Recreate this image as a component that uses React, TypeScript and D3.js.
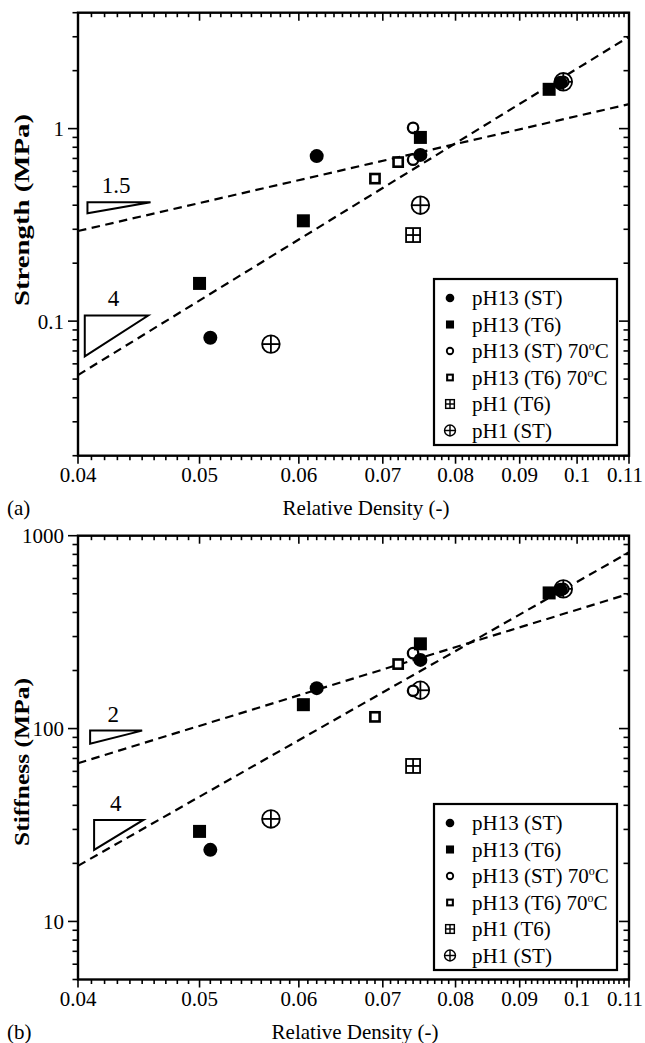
import React from 'react';
import * as d3 from 'd3';

// ---------- data ----------
const xTickValues = [0.04, 0.05, 0.06, 0.07, 0.08, 0.09, 0.1, 0.11];
const xTickLabels = ['0.04', '0.05', '0.06', '0.07', '0.08', '0.09', '0.1', '0.11'];

const seriesKinds = ['fcircle', 'fsquare', 'ocircle', 'osquare', 'sqplus', 'circplus'];
const seriesBase = ['pH13 (ST)', 'pH13 (T6)', 'pH13 (ST) 70', 'pH13 (T6) 70', 'pH1 (T6)', 'pH1 (ST)'];
const seriesSup = ['', '', 'o', 'o', '', ''];
const seriesTail = ['', '', 'C', 'C', '', ''];

// Strength (MPa) vs relative density
const strengthST = [[0.051, 0.082], [0.062, 0.72], [0.075, 0.73], [0.097, 1.73]];
const strengthT6 = [[0.05, 0.157], [0.0605, 0.332], [0.075, 0.9], [0.095, 1.6]];
const strengthST70 = [[0.074, 1.01], [0.074, 0.69], [0.0975, 1.75]];
const strengthT670 = [[0.069, 0.55], [0.072, 0.67]];
const strengthPH1T6 = [[0.074, 0.28]];
const strengthPH1ST = [[0.057, 0.076], [0.075, 0.40], [0.0975, 1.75]];
const strengthFitExp = [1.5, 4];
const strengthFitAt011 = [1.34, 3.0];
const strengthTriangles = [
  { label: '1.5', x0: 0.0407, x1: 0.0457, yTop: 0.414, yBot: 0.363 },
  { label: '4', x0: 0.0405, x1: 0.0455, yTop: 0.107, yBot: 0.0656 },
];

// Stiffness (MPa) vs relative density
const stiffST = [[0.051, 23.5], [0.062, 162], [0.075, 227], [0.097, 525]];
const stiffT6 = [[0.05, 29.3], [0.0605, 133], [0.075, 275], [0.095, 505]];
const stiffST70 = [[0.074, 246], [0.074, 157], [0.0975, 530]];
const stiffT670 = [[0.069, 115], [0.072, 216]];
const stiffPH1T6 = [[0.074, 64]];
const stiffPH1ST = [[0.057, 34], [0.075, 158], [0.0975, 530]];
const stiffFitExp = [2, 3.7];
const stiffFitAt011 = [500, 820];
const stiffTriangles = [
  { label: '2', x0: 0.0409, x1: 0.045, yTop: 97.6, yBot: 83.4 },
  { label: '4', x0: 0.0412, x1: 0.0451, yTop: 33.6, yBot: 23.5 },
];

const strengthYMajor = [0.1, 1];
const strengthYLabels = ['0.1', '1'];
const stiffYMajor = [10, 100, 1000];
const stiffYLabels = ['10', '100', '1000'];

// ---------- layout ----------
const FONT = "'Liberation Serif', 'Times New Roman', serif";
const X_LEFT = 78;
const X_RIGHT = 629;
const PAGE_W = 645;

const xScale = d3.scaleLog().domain([0.04, 0.11]).range([X_LEFT, X_RIGHT]);

function Marker({ kind, x, y, s = 1 }: { kind: string; x: number; y: number; s?: number }) {
  const sw = (w: number) => w * Math.max(s, 0.8);
  if (kind === 'fcircle') return <circle cx={x} cy={y} r={7 * s} fill="#000" />;
  if (kind === 'fsquare') {
    const h = 6.5 * s;
    return <rect x={x - h} y={y - h} width={2 * h} height={2 * h} fill="#000" />;
  }
  if (kind === 'ocircle') return <circle cx={x} cy={y} r={5.2 * s} fill="#fff" stroke="#000" strokeWidth={sw(2.3)} />;
  if (kind === 'osquare') {
    const h = 4.6 * s;
    return <rect x={x - h} y={y - h} width={2 * h} height={2 * h} fill="#fff" stroke="#000" strokeWidth={sw(2.6)} />;
  }
  if (kind === 'sqplus') {
    const h = 7 * s;
    return (
      <g stroke="#000" strokeWidth={sw(1.8)} fill="#fff">
        <rect x={x - h} y={y - h} width={2 * h} height={2 * h} />
        <line x1={x - h} x2={x + h} y1={y} y2={y} />
        <line x1={x} x2={x} y1={y - h} y2={y + h} />
      </g>
    );
  }
  const r = 8.8 * s;
  return (
    <g stroke="#000" strokeWidth={sw(1.8)} fill="#fff">
      <circle cx={x} cy={y} r={r} />
      <line x1={x - r} x2={x + r} y1={y} y2={y} />
      <line x1={x} x2={x} y1={y - r} y2={y + r} />
    </g>
  );
}

type PanelProps = {
  yDomain: [number, number];
  yTop: number;
  yBottom: number;
  yMajor: number[];
  yLabels: string[];
  yTitle: string;
  yTitleCenter: number;
  yTitleLength: number;
  xTitleCenter: number;
  panelLabel: string;
  series: number[][][];
  fitExp: number[];
  fitAt011: number[];
  triangles: { label: string; x0: number; x1: number; yTop: number; yBot: number }[];
  legendTop: number;
};

function Panel(p: PanelProps) {
  const y = d3.scaleLog().domain(p.yDomain).range([p.yBottom, p.yTop]);
  const [d0, d1] = p.yDomain;
  const yMinor: number[] = [];
  for (let e = Math.floor(Math.log10(d0)); e <= Math.ceil(Math.log10(d1)); e++) {
    for (let k = 1; k <= 9; k++) {
      const v = k * Math.pow(10, e);
      if (v >= d0 * 0.999 && v <= d1 * 1.001 && !p.yMajor.some((m) => Math.abs(m - v) / v < 1e-6)) yMinor.push(v);
    }
  }
  const xMinor: number[] = d3.range(41, 110).map((i) => i / 1000).filter((v) => Math.round(v * 1000) % 10 !== 0);

  const fitPaths = p.fitExp.map((ex, i) => {
    const xs = [0.04, 0.11];
    const pts = xs.map((xv) => [xScale(xv), y(p.fitAt011[i] * Math.pow(xv / 0.11, ex))] as [number, number]);
    return d3.line()(pts) as string;
  });

  const legendX = 434;
  const legendW = 183;
  const rowH = 26.5;
  const legendH = 166;
  const drawOrder = [5, 2, 3, 4, 1, 0];

  return (
    <g fontFamily={FONT} fill="#000">
      {fitPaths.map((d, i) => (
        <path key={i} d={d} fill="none" stroke="#000" strokeWidth={2.2} strokeDasharray="8.5,5.5" />
      ))}
      {p.triangles.map((t, i) => {
        const pts = [
          [xScale(t.x0), y(t.yTop)],
          [xScale(t.x1), y(t.yTop)],
          [xScale(t.x0), y(t.yBot)],
        ];
        return (
          <g key={i}>
            <polygon points={pts.map((q) => q.join(',')).join(' ')} fill="none" stroke="#000" strokeWidth={2} />
            <text x={(xScale(t.x0) + xScale(t.x1)) / 2 - 3} y={y(t.yTop) - 9} fontSize={23} textAnchor="middle">
              {t.label}
            </text>
          </g>
        );
      })}
      {drawOrder.map((si) =>
        p.series[si].map((d, j) => <Marker key={si + '-' + j} kind={seriesKinds[si]} x={xScale(d[0])} y={y(d[1])} />)
      )}
      <rect x={X_LEFT} y={p.yTop} width={X_RIGHT - X_LEFT} height={p.yBottom - p.yTop} fill="none" stroke="#000" strokeWidth={2.4} />
      {[p.yBottom, p.yTop].map((base, k) => (
        <g key={k} stroke="#000" strokeWidth={1.6}>
          {xTickValues.map((v) => (
            <line key={v} x1={xScale(v)} x2={xScale(v)} y1={base} y2={base + 8} />
          ))}
          {xMinor.map((v) => (
            <line key={v} x1={xScale(v)} x2={xScale(v)} y1={base} y2={base + 4.5} />
          ))}
        </g>
      ))}
      {[X_LEFT, X_RIGHT].map((base, k) => (
        <g key={k} stroke="#000" strokeWidth={1.6}>
          {p.yMajor.map((v) => (
            <line key={v} x1={base} x2={base - 10} y1={y(v)} y2={y(v)} />
          ))}
          {yMinor.map((v) => (
            <line key={v} x1={base} x2={base - 5.5} y1={y(v)} y2={y(v)} />
          ))}
        </g>
      ))}
      {xTickValues.map((v, i) => {
        const cx = xScale(v);
        const atEdge = cx + 18 > PAGE_W - 1;
        return (
          <text
            key={v}
            x={atEdge ? PAGE_W - 2 : cx}
            y={p.yBottom + 26}
            fontSize={21}
            textAnchor={atEdge ? 'end' : 'middle'}
          >
            {xTickLabels[i]}
          </text>
        );
      })}
      {p.yMajor.map((v, i) => (
        <text key={v} x={64} y={y(v) + 7.5} fontSize={21} textAnchor="end">
          {p.yLabels[i]}
        </text>
      ))}
      <text x={p.xTitleCenter} y={p.yBottom + 59} fontSize={21} textAnchor="middle">
        Relative Density (-)
      </text>
      <text x={7} y={p.yBottom + 59} fontSize={21}>
        {p.panelLabel}
      </text>
      <text
        transform={`translate(29,${p.yTitleCenter}) rotate(-90)`}
        fontSize={21}
        textAnchor="middle"
        fontWeight="bold"
        textLength={p.yTitleLength}
        lengthAdjust="spacingAndGlyphs"
      >
        {p.yTitle}
      </text>
      <rect x={legendX} y={p.legendTop} width={legendW} height={legendH} fill="#fff" stroke="#000" strokeWidth={2.2} />
      {seriesKinds.map((k, i) => {
        const cy = p.legendTop + 19 + i * rowH;
        return (
          <g key={k}>
            <Marker kind={k} x={legendX + 16} y={cy} s={0.62} />
            <text x={legendX + 38} y={cy + 7} fontSize={21}>
              {seriesBase[i]}
              {seriesSup[i] ? (
                <tspan dy={-8} fontSize={12}>
                  {seriesSup[i]}
                </tspan>
              ) : null}
              {seriesTail[i] ? <tspan dy={8}>{seriesTail[i]}</tspan> : null}
            </text>
          </g>
        );
      })}
    </g>
  );
}

export default function App() {
  return (
    <svg width={645} height={1043} style={{ position: 'absolute', left: 0, top: 0, background: '#fff' }}>
      <rect x={0} y={0} width={645} height={1043} fill="#fff" />
      <Panel
        yDomain={[0.02, 4]}
        yTop={12.7}
        yBottom={455.7}
        yMajor={strengthYMajor}
        yLabels={strengthYLabels}
        yTitle="Strength (MPa)"
        yTitleCenter={210}
        yTitleLength={192}
        xTitleCenter={366}
        panelLabel="(a)"
        series={[strengthST, strengthT6, strengthST70, strengthT670, strengthPH1T6, strengthPH1ST]}
        fitExp={strengthFitExp}
        fitAt011={strengthFitAt011}
        triangles={strengthTriangles}
        legendTop={279}
      />
      <Panel
        yDomain={[5, 1000]}
        yTop={535.7}
        yBottom={979.5}
        yMajor={stiffYMajor}
        yLabels={stiffYLabels}
        yTitle="Stiffness (MPa)"
        yTitleCenter={762}
        yTitleLength={168}
        xTitleCenter={355}
        panelLabel="(b)"
        series={[stiffST, stiffT6, stiffST70, stiffT670, stiffPH1T6, stiffPH1ST]}
        fitExp={stiffFitExp}
        fitAt011={stiffFitAt011}
        triangles={stiffTriangles}
        legendTop={804}
      />
    </svg>
  );
}
